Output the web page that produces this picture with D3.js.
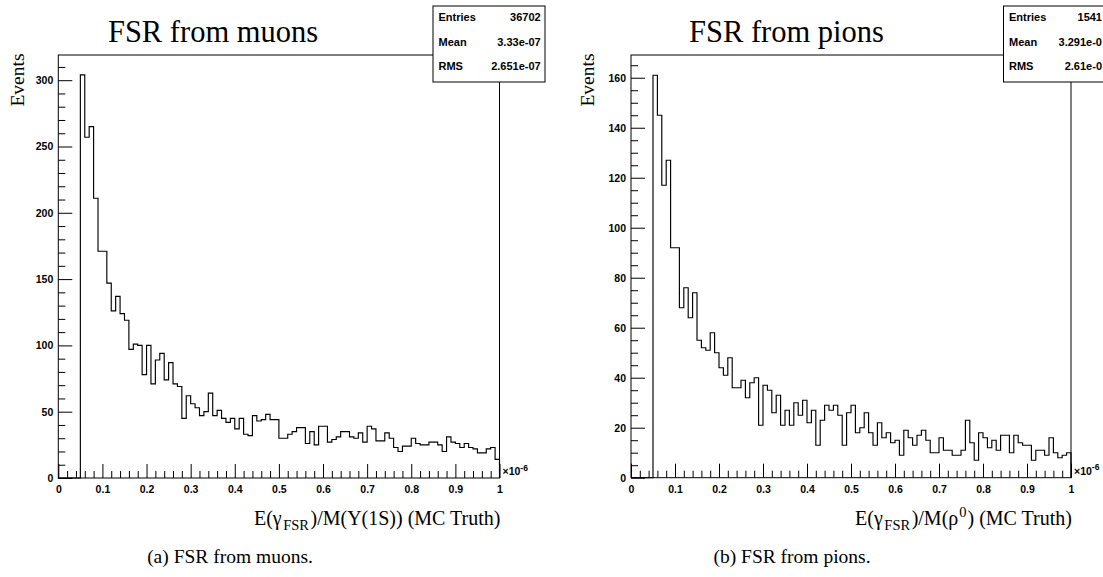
<!DOCTYPE html>
<html><head><meta charset="utf-8">
<script src="https://cdn.jsdelivr.net/npm/d3@7"></script>
<style>body{margin:0;background:#fff}</style>
</head><body><svg id="c" width="1103" height="577"></svg>
<script>
// ---- data ----
const binLow = 0.05, binWidth = 0.01;
const muonCounts = [304,257,265,211,171,171,147,126,137,124,119,97,101,100,78,100,71,89,94,74,87,71,69,45,62,56,53,47,50,64,47,51,45,42,45,37,45,33,32,47,43,44,48,44,44,30,30,33,35,38,38,26,35,25,39,39,27,29,31,35,35,31,30,34,27,39,37,28,28,34,30,23,20,24,24,30,26,25,25,27,27,25,20,31,27,26,23,26,23,22,19,19,22,23,14];
const pionCounts = [161,145,117,127,92,92,68,76,64,74,55,52,51,58,50,44,41,48,36,36,39,32,38,40,21,37,35,26,33,21,27,21,30,25,31,22,27,13,23,29,27,29,25,13,26,29,18,20,26,18,13,22,16,18,14,15,9,19,16,13,17,19,15,10,10,16,11,11,9,9,11,23,14,7,18,16,12,15,11,17,17,10,17,14,13,13,7,11,11,9,16,10,8,9,10];
const xTickValues = [0,0.1,0.2,0.3,0.4,0.5,0.6,0.7,0.8,0.9,1];
const xTickLabels = ["0","0.1","0.2","0.3","0.4","0.5","0.6","0.7","0.8","0.9","1"];
const muonYTicks = [0,50,100,150,200,250,300];
const pionYTicks = [0,20,40,60,80,100,120,140,160];
const titles = ["FSR from muons","FSR from pions"];
const captions = ["(a) FSR from muons.","(b) FSR from pions."];
const muonStats = [["Entries","36702"],["Mean","3.33e-07"],["RMS","2.651e-07"]];
const pionStats = [["Entries","1541"],["Mean","3.291e-0"],["RMS","2.61e-0"]];

const svg = d3.select("#c");
svg.append("rect").attr("width",1103).attr("height",577).attr("fill","#fff");
const SANS = "'Liberation Sans', Arial, Helvetica, sans-serif";
const SERIF = "'Liberation Serif', 'Times New Roman', serif";

const panels = [
  {x0:58.3, x1:499.5, yTop:55, yBot:478, yMax:319, ticks:muonYTicks, minor:10, counts:muonCounts,
   title:titles[0], titleX:213, caption:captions[0], capX:230, stats:muonStats, boxX:433, evX:24, xlab:"muon", valX:540.7},
  {x0:631, x1:1071, yTop:55, yBot:477.7, yMax:169.1, ticks:pionYTicks, minor:5, counts:pionCounts,
   title:titles[1], titleX:786.5, caption:captions[1], capX:792, stats:pionStats, boxX:1003.5, evX:593.5, xlab:"pion", valX:1102}
];

panels.forEach(p => {
  const g = svg.append("g");
  const x = d3.scaleLinear().domain([0,1]).range([p.x0,p.x1]);
  const y = d3.scaleLinear().domain([0,p.yMax]).range([p.yBot,p.yTop]);

  // histogram outline
  const pts = [[x(0), y(0)], [x(binLow), y(0)]];
  p.counts.forEach((v,i) => {
    const lo = binLow + i*binWidth, hi = lo + binWidth;
    pts.push([x(lo), y(v)], [x(hi), y(v)]);
  });
  pts.push([x(1), y(0)]);
  g.append("path").attr("d", d3.line()(pts)).attr("fill","none").attr("stroke","#000").attr("stroke-width",1.15);

  // y axis
  const minorY = d3.range(0, p.yMax, p.minor).filter(v => !p.ticks.includes(v));
  const ya = g.append("g").attr("transform",`translate(${p.x0},0)`)
    .call(d3.axisLeft(y).tickValues(p.ticks).tickSize(-14).tickPadding(5));
  const ym = g.append("g").attr("transform",`translate(${p.x0},0)`)
    .call(d3.axisLeft(y).tickValues(minorY).tickSize(-7).tickFormat(""));
  // x axis
  const minorX = d3.range(0, 1.0001, 0.02).filter(v => Math.abs(Math.round(v*10)-v*10) > 1e-6);
  const xa = g.append("g").attr("transform",`translate(0,${p.yBot})`)
    .call(d3.axisBottom(x).tickValues(xTickValues).tickFormat((d,i)=>xTickLabels[i]).tickSize(-14).tickPadding(7.5));
  const xm = g.append("g").attr("transform",`translate(0,${p.yBot})`)
    .call(d3.axisBottom(x).tickValues(minorX).tickSize(-7).tickFormat(""));
  [ya,ym,xa,xm].forEach(a => {
    a.select(".domain").remove();
    a.selectAll("line").attr("stroke","#000");
    a.selectAll("text").attr("font-family",SANS).attr("font-weight","bold").attr("font-size",10.5).attr("fill","#000");
  });

  // frame
  g.append("rect").attr("x",p.x0).attr("y",p.yTop).attr("width",p.x1-p.x0).attr("height",p.yBot-p.yTop)
    .attr("fill","none").attr("stroke","#000").attr("stroke-width",1);

  // x10^-6
  const ex = g.append("text").attr("x",p.x1+3).attr("y",p.yBot-3)
    .attr("font-family",SANS).attr("font-weight","bold").attr("font-size",10.5).attr("fill","#000");
  ex.append("tspan").text("×10");
  ex.append("tspan").attr("dy",-4.5).attr("font-size",8.5).text("-6");

  // title
  g.append("text").attr("x",p.titleX).attr("y",42).attr("text-anchor","middle")
    .attr("font-family",SERIF).attr("font-size",30.5).attr("fill","#000").text(p.title);

  // Events
  g.append("text").attr("transform",`translate(${p.evX},53.5) rotate(-90)`).attr("text-anchor","end")
    .attr("font-family",SERIF).attr("font-size",19.5).attr("fill","#000").text("Events");

  // x axis label
  const xl = g.append("text").attr("x",p.x1+1).attr("y",525).attr("text-anchor","end")
    .attr("font-family",SERIF).attr("font-size",20).attr("fill","#000");
  xl.append("tspan").text("E(γ");
  xl.append("tspan").attr("dx",1.5).attr("dy",5).attr("font-size",14.5).text("FSR");
  if (p.xlab === "muon") {
    xl.append("tspan").attr("dx",1.5).attr("dy",-5).text(")/M(Υ(1S)) (MC Truth)");
  } else {
    xl.append("tspan").attr("dx",1.5).attr("dy",-5).text(")/M(ρ");
    xl.append("tspan").attr("dx",1).attr("dy",-8).attr("font-size",14.5).text("0");
    xl.append("tspan").attr("dx",1).attr("dy",8).text(") (MC Truth)");
  }

  // stats box
  const b = g.append("g");
  b.append("rect").attr("x",p.boxX).attr("y",6).attr("width",112).attr("height",76)
    .attr("fill","#fff").attr("stroke","#000").attr("stroke-width",1);
  const rowsY = [21, 45.5, 70];
  p.stats.forEach((s,i) => {
    b.append("text").attr("x",p.boxX+5.5).attr("y",rowsY[i]).attr("font-family",SANS).attr("font-weight","bold")
      .attr("font-size",11).attr("fill","#000").text(s[0]);
    b.append("text").attr("x",p.valX).attr("y",rowsY[i]).attr("text-anchor","end").attr("font-family",SANS).attr("font-weight","bold")
      .attr("font-size",11).attr("fill","#000").text(s[1]);
  });

  // caption
  g.append("text").attr("x",p.capX).attr("y",563).attr("text-anchor","middle")
    .attr("font-family",SERIF).attr("font-size",19.5).attr("fill","#000").text(p.caption);
});
</script></body></html>
